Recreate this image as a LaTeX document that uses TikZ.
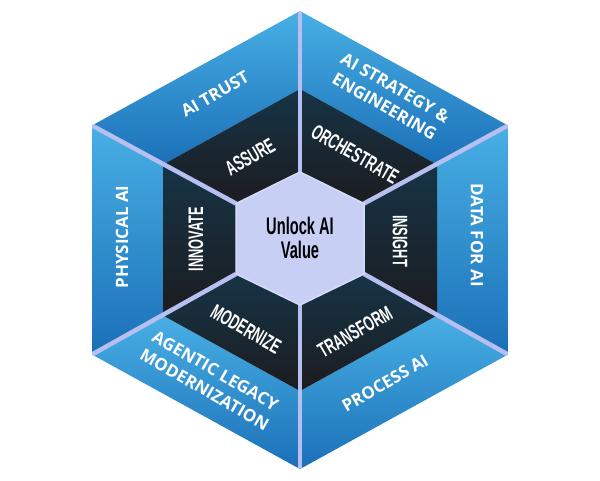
\documentclass[tikz,border=0pt]{standalone}
\usepackage{fontspec}
\newfontfamily\osans{Open Sans}
\newfontfamily\lsans{Liberation Sans}
\newcommand\cnd[1]{\scalebox{0.61}[1]{#1}}
\definecolor{bluetop}{RGB}{72,175,228}
\definecolor{bluebot}{RGB}{27,112,184}
\definecolor{darktop}{RGB}{22,52,70}
\definecolor{darkbot}{RGB}{28,28,32}
\definecolor{spokec}{RGB}{183,191,240}
\definecolor{centerc}{RGB}{199,207,245}
\definecolor{centeredge}{RGB}{214,220,249}
\begin{document}
\begin{tikzpicture}[x=1pt,y=-1pt,
  blueseg/.style={top color=bluetop, bottom color=bluebot, draw=none},
  darkseg/.style={top color=darktop, bottom color=darkbot, draw=none},
  spokeline/.style={draw=spokec, line width=4.5pt},
  bluetxt/.style={text=white, inner sep=0pt, align=center,
    font=\osans\bfseries\fontsize{17}{21.6}\selectfont},
  darktxt/.style={text=white, inner sep=0pt,
    font=\lsans\bfseries\fontsize{21}{23}\selectfont},
  centertxt/.style={text=black, inner sep=0pt, align=center,
    font=\lsans\bfseries\fontsize{24}{24}\selectfont}]
\useasboundingbox (0,0) rectangle (600,480);
% outer hexagon
\coordinate (o1) at (300,11);
\coordinate (o2) at (508,125.5);
\coordinate (o3) at (508,354.5);
\coordinate (o4) at (300,469);
\coordinate (o5) at (92,354.5);
\coordinate (o6) at (92,125.5);
% inner (dark) hexagon
\coordinate (i1) at (300,89);
\coordinate (i2) at (437,164.5);
\coordinate (i3) at (437,315.5);
\coordinate (i4) at (300,391);
\coordinate (i5) at (163,315.5);
\coordinate (i6) at (163,164.5);
% center hexagon
\coordinate (c1) at (300,172);
\coordinate (c2) at (364,203.5);
\coordinate (c3) at (364,274);
\coordinate (c4) at (300,305);
\coordinate (c5) at (236,274);
\coordinate (c6) at (236,203.5);
% blue ring
\path[blueseg] (o1) -- (o2) -- (i2) -- (i1) -- cycle;
\path[blueseg] (o2) -- (o3) -- (i3) -- (i2) -- cycle;
\path[blueseg] (o3) -- (o4) -- (i4) -- (i3) -- cycle;
\path[blueseg] (o4) -- (o5) -- (i5) -- (i4) -- cycle;
\path[blueseg] (o5) -- (o6) -- (i6) -- (i5) -- cycle;
\path[blueseg] (o6) -- (o1) -- (i1) -- (i6) -- cycle;
% dark ring
\path[darkseg] (i1) -- (i2) -- (c2) -- (c1) -- cycle;
\path[darkseg] (i2) -- (i3) -- (c3) -- (c2) -- cycle;
\path[darkseg] (i3) -- (i4) -- (c4) -- (c3) -- cycle;
\path[darkseg] (i4) -- (i5) -- (c5) -- (c4) -- cycle;
\path[darkseg] (i5) -- (i6) -- (c6) -- (c5) -- cycle;
\path[darkseg] (i6) -- (i1) -- (c1) -- (c6) -- cycle;
% spokes
\begin{scope}
\clip (o1) -- (o2) -- (o3) -- (o4) -- (o5) -- (o6) -- cycle;
\draw[spokeline] (c1) -- (o1);
\draw[spokeline] (c2) -- (o2);
\draw[spokeline] (c3) -- (o3);
\draw[spokeline] (c4) -- (o4);
\draw[spokeline] (c5) -- (o5);
\draw[spokeline] (c6) -- (o6);
\end{scope}
% center
\path[fill=centerc, draw=centeredge, line width=1.5pt]
  (c1) -- (c2) -- (c3) -- (c4) -- (c5) -- (c6) -- cycle;
% blue texts
\node[bluetxt, rotate=30] (trust) at (215,94) {AI TRUST};
\node[bluetxt, rotate=-30] (strat) at (390,97) {AI STRATEGY \&\\ENGINEERING};
\node[bluetxt, rotate=-90] (data) at (477,235) {DATA FOR AI};
\node[bluetxt, rotate=30] (proc) at (385,383) {PROCESS AI};
\node[bluetxt, rotate=-30] (agentic) at (210,380) {AGENTIC LEGACY\\MODERNIZATION};
\node[bluetxt, rotate=90] (phys) at (122,237) {PHYSICAL AI};
% dark texts
\node[darktxt, rotate=30] (assure) at (250,157) {\cnd{ASSURE}};
\node[darktxt, rotate=-30] (orch) at (355,154) {\cnd{ORCHESTRATE}};
\node[darktxt, rotate=-90] (insight) at (400,241) {\cnd{INSIGHT}};
\node[darktxt, rotate=30] (transform) at (355,332) {\cnd{TRANSFORM}};
\node[darktxt, rotate=-30] (modern) at (246,329) {\cnd{MODERNIZE}};
\node[darktxt, rotate=90] (innovate) at (196,239) {\cnd{INNOVATE}};
% center text
\node[centertxt] (unlock) at (300,238) {\scalebox{0.61}[1]{Unlock AI}\\\scalebox{0.61}[1]{Value}};
\end{tikzpicture}
\end{document}
